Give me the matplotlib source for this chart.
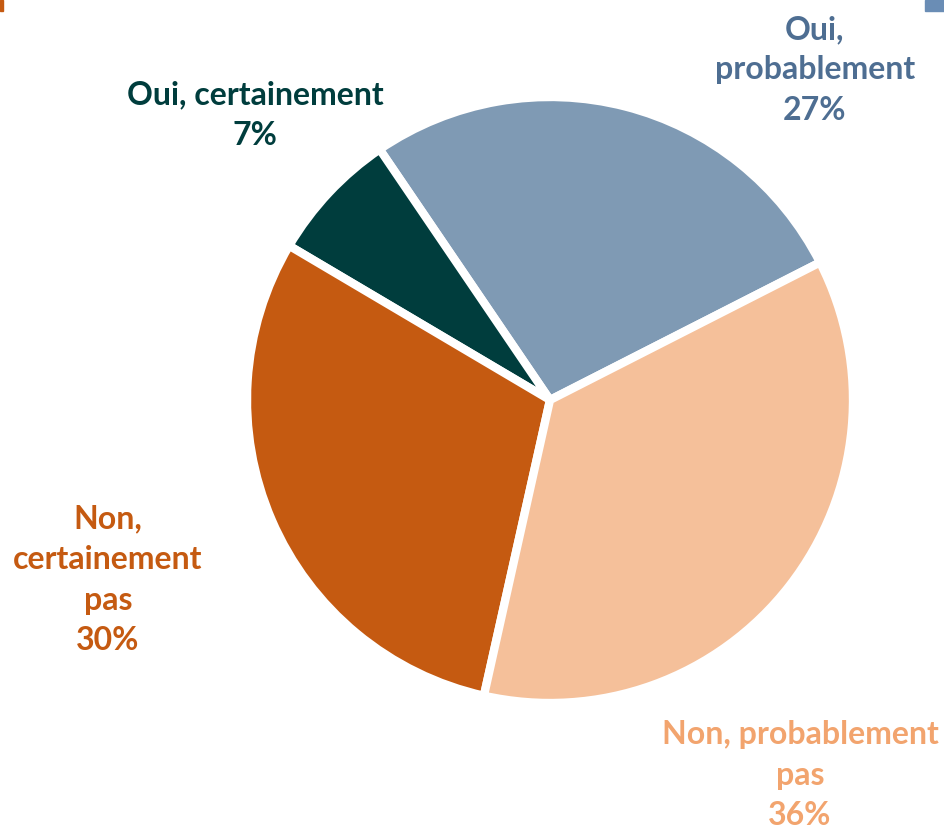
import matplotlib.pyplot as plt
from matplotlib.patches import Rectangle

labels = ["Oui,\nprobablement", "Oui, certainement", "Non,\ncertainement\npas", "Non, probablement\npas"]
shares = [27, 7, 30, 36]
slice_colors = ["#7F9AB4", "#003D3D", "#C55A11", "#F5C09A"]
text_colors = ["#4E6E92", "#003D3D", "#C55A11", "#F2A46E"]
# label anchor points in pixel space (x, y from top)
label_pos = [(815, 70), (255, 115), (108, 580), (800, 775)]

W, H = 944, 830

fig = plt.figure(figsize=(W / 100, H / 100), dpi=100)
ax = fig.add_axes([0, 0, 1, 1])
ax.axis("off")

ax.pie(
    shares,
    colors=slice_colors,
    startangle=27,
    counterclock=True,
    center=(550, H - 400),
    radius=303,
    wedgeprops=dict(edgecolor="white", linewidth=6),
)
ax.set_xlim(0, W)
ax.set_ylim(0, H)
ax.set_aspect("equal")

for lab, val, col, (x, y) in zip(labels, shares, text_colors, label_pos):
    ax.text(x, H - y, f"{lab}\n{val}%", ha="center", va="center", color=col,
            fontsize=23, fontweight="bold", family="Lato", linespacing=1.48)

# small edge markers
ax.add_patch(Rectangle((0, H - 11), 3, 11, color="#C55A11", clip_on=False))
ax.add_patch(Rectangle((925, H - 11), 19, 11, color="#6A8DB5", clip_on=False))

fig.savefig("out.png", dpi=100)
